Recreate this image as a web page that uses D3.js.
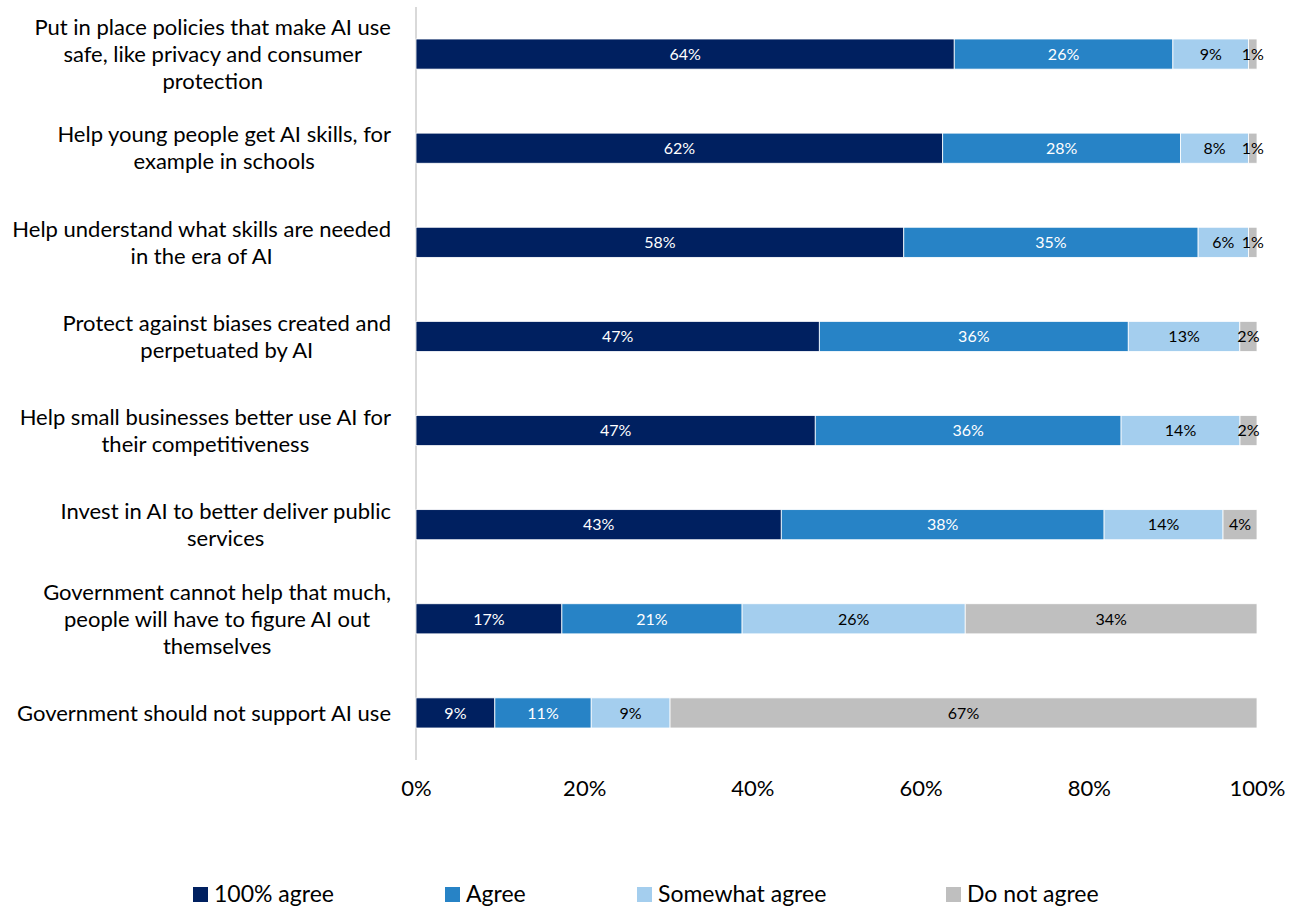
<!DOCTYPE html>
<html>
<head>
<meta charset="utf-8">
<script src="https://cdn.jsdelivr.net/npm/d3@7"></script>
<style>
  html, body { margin: 0; padding: 0; background: #fff; }
  svg text { font-family: "Lato", "Open Sans", sans-serif; }
</style>
</head>
<body>
<svg id="chart" width="1302" height="912"></svg>
<script>
// Survey statements (top to bottom), each split into display lines
const categories = [
  ["Put in place policies that make AI use", "safe, like privacy and consumer", "protection"],
  ["Help young people get AI skills, for", "example in schools"],
  ["Help understand what skills are needed", "in the era of AI"],
  ["Protect against biases created and", "perpetuated by AI"],
  ["Help small businesses better use AI for", "their competitiveness"],
  ["Invest in AI to better deliver public", "services"],
  ["Government cannot help that much,", "people will have to figure AI out", "themselves"],
  ["Government should not support AI use"]
];

const seriesNames = ["100% agree", "Agree", "Somewhat agree", "Do not agree"];

// Share of respondents per answer, in category order
const fullyAgree    = [64, 62, 58, 47, 47, 43, 17, 9];
const agree         = [26, 28, 35, 36, 36, 38, 21, 11];
const somewhatAgree = [9, 8, 6, 13, 14, 14, 26, 9];
const doNotAgree    = [1, 1, 1, 2, 2, 4, 34, 67];

const tickValues = [0, 0.2, 0.4, 0.6, 0.8, 1];

const colors = ["#002060", "#2783C6", "#A4CEEE", "#BFBFBF"];
const labelColors = ["#ffffff", "#ffffff", "#000000", "#000000"];

const rows = categories.map((c, i) => ({
  key: i,
  "100% agree": fullyAgree[i],
  "Agree": agree[i],
  "Somewhat agree": somewhatAgree[i],
  "Do not agree": doNotAgree[i]
}));

const svg = d3.select("#chart");
const margin = { left: 416, right: 45, top: 7, bottom: 152 };
const W = 1302, H = 912;

const x = d3.scaleLinear().domain([0, 1]).range([margin.left, W - margin.right]);
const y = d3.scaleBand()
  .domain(d3.range(categories.length))
  .range([margin.top, H - margin.bottom])
  .paddingInner(0.68)
  .paddingOuter(0.34);

// Each bar is normalised to 100%
const stack = d3.stack().keys(seriesNames).offset(d3.stackOffsetExpand);
const stacked = stack(rows);

// Vertical category axis line
svg.append("line")
  .attr("x1", margin.left).attr("x2", margin.left)
  .attr("y1", margin.top).attr("y2", H - margin.bottom)
  .attr("stroke", "#D9D9D9").attr("stroke-width", 2);

// Bars
const layers = svg.append("g").selectAll("g")
  .data(stacked).join("g")
  .attr("fill", (d, i) => colors[i]);

layers.selectAll("rect")
  .data(d => d).join("rect")
  .attr("x", d => x(d[0]))
  .attr("y", (d, i) => y(i))
  .attr("width", d => x(d[1]) - x(d[0]))
  .attr("height", y.bandwidth())
  .attr("stroke", "#ffffff")
  .attr("stroke-width", 0.8);

// Value labels
stacked.forEach((layer, si) => {
  svg.append("g").selectAll("text")
    .data(layer).join("text")
    .attr("x", d => (x(d[0]) + x(d[1])) / 2)
    .attr("y", (d, i) => y(i) + y.bandwidth() / 2)
    .attr("dy", "0.36em")
    .attr("text-anchor", "middle")
    .attr("font-size", 16)
    .attr("fill", labelColors[si])
    .text(d => d.data[layer.key] + "%");
});

// Category labels: centered line blocks, right-aligned next to the axis
const lineH = 27;
const catG = svg.append("g");
categories.forEach((lines, i) => {
  const cy = y(i) + y.bandwidth() / 2;
  const t = catG.append("text")
    .attr("font-size", 22)
    .attr("fill", "#000")
    .attr("text-anchor", "middle");
  const spans = lines.map((ln, j) =>
    t.append("tspan")
      .attr("y", cy + (j - (lines.length - 1) / 2) * lineH)
      .attr("dy", "0.35em")
      .text(ln)
  );
  const widest = d3.max(spans, s => s.node().getComputedTextLength());
  const cx = margin.left - 25 - widest / 2;
  spans.forEach(s => s.attr("x", cx));
});

// X axis tick labels
const xAxis = d3.axisBottom(x)
  .tickValues(tickValues)
  .tickFormat(d3.format(".0%"))
  .tickSize(0)
  .tickPadding(0);
const gx = svg.append("g")
  .attr("transform", `translate(0, ${H - margin.bottom + 20})`)
  .call(xAxis);
gx.select(".domain").remove();
gx.selectAll("text")
  .attr("font-size", 22)
  .attr("fill", "#000")
  .attr("font-family", "Lato, 'Open Sans', sans-serif");

// Legend
const legendX = [193, 445, 637, 946];
const legend = svg.append("g").attr("transform", "translate(0, 894)");
seriesNames.forEach((name, i) => {
  legend.append("rect")
    .attr("x", legendX[i]).attr("y", -7)
    .attr("width", 15).attr("height", 15)
    .attr("fill", colors[i]);
  legend.append("text")
    .attr("x", legendX[i] + 21).attr("y", 0)
    .attr("dy", "0.35em")
    .attr("font-size", 23)
    .attr("fill", "#000")
    .text(name);
});
</script>
</body>
</html>
